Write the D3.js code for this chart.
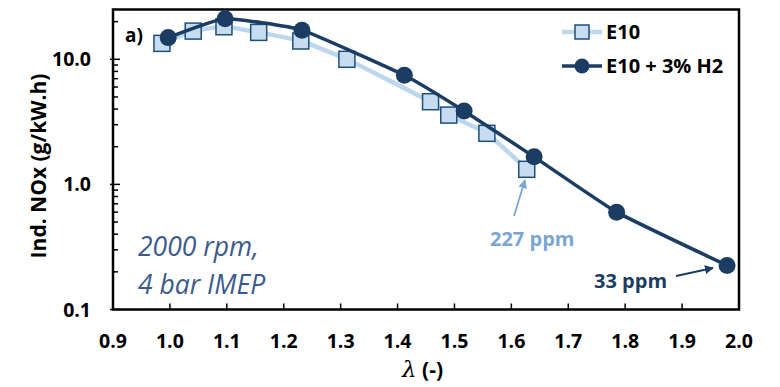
<!DOCTYPE html>
<html>
<head>
<meta charset="utf-8">
<script src="https://cdn.jsdelivr.net/npm/d3@7"></script>
<style>
  html, body { margin: 0; padding: 0; background: #fff; }
  svg text { font-family: "Open Sans", "Noto Sans", sans-serif; }
</style>
</head>
<body>
<svg id="chart" width="780" height="387"></svg>
<script>
(function (d3) {
    'use strict';

    // E10 series
    var e10Lambda = [0.986, 1.041, 1.095, 1.156, 1.230, 1.311, 1.458, 1.490, 1.557, 1.627];
    var e10Nox = [13.4, 16.8, 18.2, 16.4, 14.0, 10.0, 4.58, 3.58, 2.56, 1.32];

    // E10 + 3% H2 series
    var h2Lambda = [0.997, 1.097, 1.232, 1.412, 1.517, 1.640, 1.785, 1.979];
    var h2Nox = [14.9, 21.1, 17.1, 7.45, 3.86, 1.66, 0.60, 0.225];

    var xTicks = [0.9, 1.0, 1.1, 1.2, 1.3, 1.4, 1.5, 1.6, 1.7, 1.8, 1.9, 2.0];
    var yTicks = [0.1, 1, 10];
    var seriesNames = ['E10', 'E10 + 3% H2'];

    var dark = '#1b3d63',
        light = '#bdd7ee',
        squareFill = '#c6dcf0',
        squareStroke = '#1f4e79';

    var svg = d3.select('#chart');
    var left = 113, right = 739, top = 9.5, bottom = 309.5;

    var x = d3.scaleLinear().domain([0.9, 2.0]).range([left, right]);
    var y = d3.scaleLog().domain([0.1, 25]).range([bottom, top]);

    // minor ticks on y (log)
    var minor = [];
    [0.1, 1, 10].forEach(function (dec) {
        d3.range(2, 10).forEach(function (m) {
            if (dec * m <= 25) { minor.push(dec * m); }
        });
    });
    svg.append('g').selectAll('line').data(minor).enter().append('line')
        .attr('x1', left).attr('x2', left + 5)
        .attr('y1', function (d) { return y(d); })
        .attr('y2', function (d) { return y(d); })
        .attr('stroke', '#000').attr('stroke-width', 1.5);
    svg.append('g').selectAll('line').data(yTicks).enter().append('line')
        .attr('x1', left - 3).attr('x2', left + 7)
        .attr('y1', function (d) { return y(d); })
        .attr('y2', function (d) { return y(d); })
        .attr('stroke', '#000').attr('stroke-width', 1.5);

    // x ticks point up into the plot
    svg.append('g').selectAll('line').data(xTicks.slice(1, -1)).enter().append('line')
        .attr('x1', function (d) { return x(d); })
        .attr('x2', function (d) { return x(d); })
        .attr('y1', bottom).attr('y2', bottom - 6)
        .attr('stroke', '#000').attr('stroke-width', 1.5);

    // frame
    svg.append('rect')
        .attr('x', left).attr('y', top)
        .attr('width', right - left).attr('height', bottom - top)
        .attr('fill', 'none').attr('stroke', '#000').attr('stroke-width', 2.5);

    // tick labels
    svg.append('g').selectAll('text').data(xTicks).enter().append('text')
        .attr('x', function (d) { return x(d); })
        .attr('y', 348)
        .attr('text-anchor', 'middle')
        .attr('font-size', 19.5).attr('font-weight', 700)
        .text(function (d) { return d3.format('.1f')(d); });
    svg.append('g').selectAll('text').data(yTicks).enter().append('text')
        .attr('x', 91)
        .attr('y', function (d) { return y(d) + 7; })
        .attr('text-anchor', 'end')
        .attr('font-size', 19.5).attr('font-weight', 700)
        .text(function (d) { return d3.format('.1f')(d); });

    // axis titles
    svg.append('text')
        .attr('transform', 'translate(46,166) rotate(-90)')
        .attr('text-anchor', 'middle')
        .attr('font-size', 21).attr('font-weight', 700)
        .text('Ind. NOx (g/kW.h)');
    var xt = svg.append('text')
        .attr('x', 402).attr('y', 377)
        .attr('font-size', 21).attr('font-weight', 700);
    xt.append('tspan').attr('font-family', 'DejaVu Serif').attr('font-style', 'italic')
        .attr('font-weight', 400).attr('font-size', 23).text('\u03bb');
    xt.append('tspan').text(' (-)');

    // lines (light smoothing, like the spreadsheet's smoothed lines)
    var e10 = e10Lambda.map(function (l, i) { return [l, e10Nox[i]]; });
    var h2 = h2Lambda.map(function (l, i) { return [l, h2Nox[i]]; });
    var line = d3.line()
        .x(function (d) { return x(d[0]); })
        .y(function (d) { return y(d[1]); })
        .curve(d3.curveCardinal.tension(0.6));

    svg.append('path').datum(e10).attr('d', line)
        .attr('fill', 'none').attr('stroke', light).attr('stroke-width', 4.5);
    svg.append('g').selectAll('rect').data(e10).enter().append('rect')
        .attr('x', function (d) { return x(d[0]) - 8; })
        .attr('y', function (d) { return y(d[1]) - 8; })
        .attr('width', 16).attr('height', 16)
        .attr('fill', squareFill).attr('stroke', squareStroke).attr('stroke-width', 1.5);

    svg.append('path').datum(h2).attr('d', line)
        .attr('fill', 'none').attr('stroke', dark).attr('stroke-width', 3.5);
    svg.append('g').selectAll('circle').data(h2).enter().append('circle')
        .attr('cx', function (d) { return x(d[0]); })
        .attr('cy', function (d) { return y(d[1]); })
        .attr('r', 8.5)
        .attr('fill', dark);

    // legend
    var lg = svg.append('g');
    lg.append('line').attr('x1', 562).attr('x2', 602).attr('y1', 32).attr('y2', 32)
        .attr('stroke', light).attr('stroke-width', 4.5);
    lg.append('rect').attr('x', 575).attr('y', 25).attr('width', 14).attr('height', 14)
        .attr('fill', squareFill).attr('stroke', squareStroke).attr('stroke-width', 1.5);
    lg.append('line').attr('x1', 562).attr('x2', 602).attr('y1', 66).attr('y2', 66)
        .attr('stroke', dark).attr('stroke-width', 3.5);
    lg.append('circle').attr('cx', 582).attr('cy', 66).attr('r', 7.5).attr('fill', dark);
    lg.selectAll('text').data(seriesNames).enter().append('text')
        .attr('x', 606)
        .attr('y', function (d, i) { return 39 + i * 34; })
        .attr('font-size', 20).attr('font-weight', 700)
        .text(function (d) { return d; });

    // panel label and conditions
    svg.append('text').attr('x', 125).attr('y', 42)
        .attr('font-size', 19).attr('font-weight', 700).text('a)');
    svg.append('text').attr('x', 138).attr('y', 256)
        .attr('font-size', 26.5).attr('font-style', 'italic').attr('fill', '#3b5a8e')
        .text('2000 rpm,');
    svg.append('text').attr('x', 138).attr('y', 294)
        .attr('font-size', 26.5).attr('font-style', 'italic').attr('fill', '#3b5a8e')
        .text('4 bar IMEP');

    // annotations
    var defs = svg.append('defs');
    [['arrLight', '#7aa6d4'], ['arrDark', dark]].forEach(function (a) {
        defs.append('marker').attr('id', a[0])
            .attr('viewBox', '0 0 10 10').attr('refX', 9).attr('refY', 5)
            .attr('markerWidth', 5).attr('markerHeight', 5).attr('orient', 'auto')
            .append('path').attr('d', 'M0,0 L10,5 L0,10 Z').attr('fill', a[1]);
    });
    svg.append('line').attr('x1', 514).attr('y1', 216).attr('x2', 525).attr('y2', 180)
        .attr('stroke', '#7aa6d4').attr('stroke-width', 1.8).attr('marker-end', 'url(#arrLight)');
    svg.append('text').attr('x', 490).attr('y', 246)
        .attr('font-size', 20).attr('font-weight', 700).attr('fill', '#7aa6d4')
        .text('227 ppm');
    svg.append('line').attr('x1', 676).attr('y1', 276).attr('x2', 713).attr('y2', 268)
        .attr('stroke', dark).attr('stroke-width', 1.8).attr('marker-end', 'url(#arrDark)');
    svg.append('text').attr('x', 594).attr('y', 288)
        .attr('font-size', 20).attr('font-weight', 700).attr('fill', dark)
        .text('33 ppm');

}(window.d3));
</script>
</body>
</html>
